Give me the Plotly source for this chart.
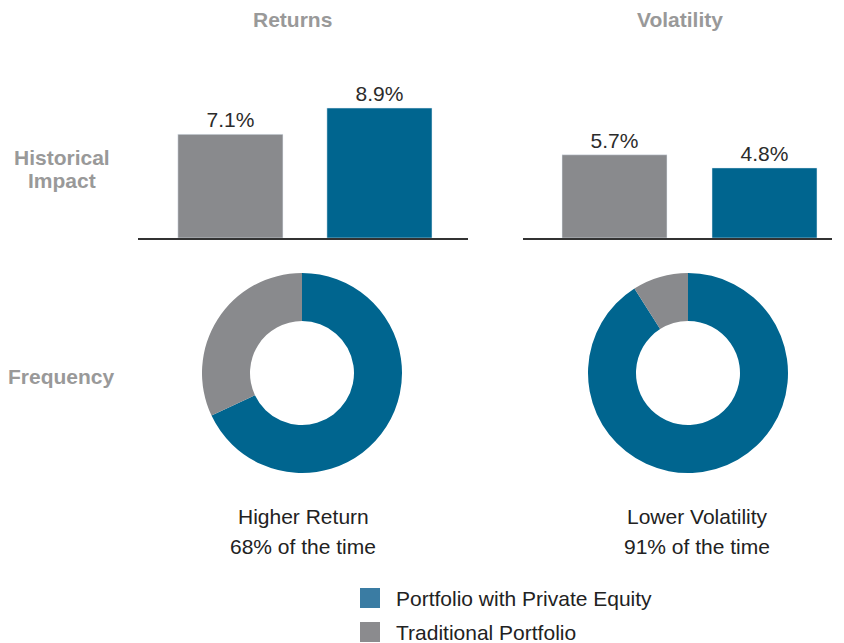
import plotly.graph_objects as go

W, H = 844, 643
OFF = 8  # the page body adds an 8px margin, positions below are page pixels

# data
portfolios = ["Traditional Portfolio", "Portfolio with Private Equity"]
returns = [7.1, 8.9]
volatility = [5.7, 4.8]
freq_labels = ["Portfolio with Private Equity", "Traditional Portfolio"]
freq_returns = [68, 32]
freq_volatility = [91, 9]

BLUE = "#00658F"
GREY = "#898A8D"
LEG_BLUE = "#3A7CA3"
LEG_GREY = "#8B8B8E"
FONT = "Liberation Sans, Arial, sans-serif"


def px_x(x):
    return (x - OFF) / W


def px_y(y):
    return 1 - (y - OFF) / H


fig = go.Figure()

# bars - returns
fig.add_trace(go.Bar(
    x=[0, 1], y=returns, marker_color=[GREY, BLUE], width=0.705,
    text=[f"{v:.1f}%" for v in returns], textposition="outside",
    textfont=dict(size=21, color="#2b2b2b"), cliponaxis=False,
    xaxis="x", yaxis="y", showlegend=False, hoverinfo="skip",
))
# bars - volatility
fig.add_trace(go.Bar(
    x=[0, 1], y=volatility, marker_color=[GREY, BLUE], width=0.7,
    text=[f"{v:.1f}%" for v in volatility], textposition="outside",
    textfont=dict(size=21, color="#2b2b2b"), cliponaxis=False,
    xaxis="x2", yaxis="y2", showlegend=False, hoverinfo="skip",
))

# donuts
fig.add_trace(go.Pie(
    labels=freq_labels, values=freq_returns, hole=0.52, sort=False,
    direction="clockwise", rotation=0, textinfo="none",
    marker=dict(colors=[BLUE, GREY]), showlegend=False,
    domain=dict(x=[px_x(202), px_x(402)], y=[px_y(473), px_y(273)]),
))
fig.add_trace(go.Pie(
    labels=freq_labels, values=freq_volatility, hole=0.52, sort=False,
    direction="clockwise", rotation=0, textinfo="none",
    marker=dict(colors=[BLUE, GREY]), showlegend=False,
    domain=dict(x=[px_x(588), px_x(788)], y=[px_y(473), px_y(273)]),
))

ydom = [px_y(238), px_y(92)]
axis_common = dict(showgrid=False, zeroline=False, showticklabels=False, ticks="")
fig.update_layout(
    width=W, height=H,
    margin=dict(l=0, r=0, t=0, b=0),
    paper_bgcolor="white", plot_bgcolor="white",
    font=dict(family=FONT),
    xaxis=dict(domain=[px_x(138), px_x(468)], range=[-0.62, 1.594],
               showline=True, linecolor="#333333", linewidth=1.5, **axis_common),
    yaxis=dict(domain=ydom, range=[0, 10], **axis_common),
    xaxis2=dict(domain=[px_x(523), px_x(832)], range=[-0.61, 1.45], anchor="y2",
                showline=True, linecolor="#333333", linewidth=1.5, **axis_common),
    yaxis2=dict(domain=ydom, range=[0, 10], anchor="x2", **axis_common),
)

ann = []


def add_text(x, y, text, size, color, bold=False, xanchor="center"):
    ann.append(dict(
        x=px_x(x), y=px_y(y), xref="paper", yref="paper", showarrow=False,
        text=f"<b>{text}</b>" if bold else text, xanchor=xanchor, yanchor="middle",
        font=dict(size=size, color=color, family=FONT), align="center",
    ))


add_text(292, 19, "Returns", 21, "#999999", bold=True)
add_text(680, 19, "Volatility", 21, "#999999", bold=True)
add_text(62, 157, "Historical", 21, "#999999", bold=True)
add_text(62, 181, "Impact", 21, "#999999", bold=True)
add_text(62, 376, "Frequency", 21, "#999999", bold=True)
add_text(303, 516, "Higher Return", 21, "#222222")
add_text(303, 546, "68% of the time", 21, "#222222")
add_text(697, 516, "Lower Volatility", 21, "#222222")
add_text(697, 546, "91% of the time", 21, "#222222")
add_text(394, 598, "Portfolio with Private Equity", 21, "#222222", xanchor="left")
add_text(394, 632, "Traditional Portfolio", 21, "#222222", xanchor="left")
fig.update_layout(annotations=ann)

# legend squares
for y0, col in [(588, LEG_BLUE), (622, LEG_GREY)]:
    fig.add_shape(type="rect", xref="paper", yref="paper",
                  x0=px_x(360), x1=px_x(380), y0=px_y(y0 + 20), y1=px_y(y0),
                  fillcolor=col, line_width=0)

fig.write_html("out.html")
